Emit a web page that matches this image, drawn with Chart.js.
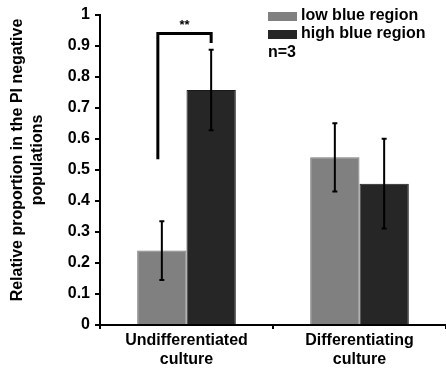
<!DOCTYPE html>
<html><head><meta charset="utf-8">
<style>html,body{margin:0;padding:0;background:#fff;overflow:hidden}#wrap{width:446px;height:369px}</style>
<script src="https://cdn.jsdelivr.net/npm/chart.js@4/dist/chart.umd.min.js"></script>
</head><body><div id="wrap"><canvas id="c" width="446" height="369"></canvas></div>
<script>
const categories = [['Undifferentiated','culture'], ['Differentiating','culture']];
const seriesNames = ['low blue region', 'high blue region'];
const lowValues = [0.24, 0.541];
const highValues = [0.758, 0.456];
const lowErrors = [0.095, 0.11];
const highErrors = [0.13, 0.145];
const yTicks = [0,0.1,0.2,0.3,0.4,0.5,0.6,0.7,0.8,0.9,1];
const yTitle = ['Relative proportion in the PI negative', 'populations'];
const noteText = 'n=3';
const sigText = '**';
const sigLevels = [0.535, 0.94, 0.91];
const colors = ['#808080', '#262626'];
const FONT = '"Liberation Sans", Arial, sans-serif';

const errs = [lowErrors, highErrors];

const overlay = {
  id: 'overlay',
  afterDatasetsDraw(chart) {
    const ctx = chart.ctx, y = chart.scales.y;
    ctx.save();
    ctx.strokeStyle = '#000';
    ctx.lineWidth = 2;
    chart.data.datasets.forEach((ds, di) => {
      const meta = chart.getDatasetMeta(di);
      meta.data.forEach((bar, i) => {
        const v = ds.data[i], e = errs[di][i];
        const x = bar.x, yt = y.getPixelForValue(v + e), yb = y.getPixelForValue(v - e);
        ctx.beginPath();
        ctx.moveTo(x, yt); ctx.lineTo(x, yb);
        ctx.moveTo(x - 2.5, yt); ctx.lineTo(x + 2.5, yt);
        ctx.moveTo(x - 2.5, yb); ctx.lineTo(x + 2.5, yb);
        ctx.stroke();
      });
    });
    // significance bracket
    const b0 = chart.getDatasetMeta(0).data[0], b1 = chart.getDatasetMeta(1).data[0];
    const xl = b0.x - 4, xr = b1.x;
    ctx.lineWidth = 3;
    ctx.beginPath();
    ctx.moveTo(xl, y.getPixelForValue(sigLevels[0]));
    ctx.lineTo(xl, y.getPixelForValue(sigLevels[1]));
    ctx.lineTo(xr, y.getPixelForValue(sigLevels[1]));
    ctx.lineTo(xr, y.getPixelForValue(sigLevels[2]));
    ctx.stroke();
    ctx.fillStyle = '#000';
    ctx.font = 'bold 13px ' + FONT;
    ctx.textAlign = 'center';
    ctx.textBaseline = 'bottom';
    ctx.fillText(sigText, (xl + xr) / 2, y.getPixelForValue(sigLevels[1]) - 2);
    // legend
    ctx.font = 'bold 16px ' + FONT;
    ctx.textAlign = 'left';
    ctx.textBaseline = 'middle';
    seriesNames.forEach((n, i) => {
      const yy = 16 + i * 18;
      ctx.fillStyle = colors[i];
      ctx.fillRect(268, yy - 4, 29, 9);
      ctx.fillStyle = '#000';
      ctx.fillText(n, 301, yy);
    });
    ctx.fillText(noteText, 268, 53);
    // y title
    ctx.save();
    ctx.translate(0, 160);
    ctx.rotate(-Math.PI / 2);
    ctx.textAlign = 'center';
    ctx.font = 'bold 16px ' + FONT;
    ctx.fillText(yTitle[0], 0, 18);
    ctx.fillText(yTitle[1], 0, 38);
    ctx.restore();
    ctx.restore();
  }
};

new Chart(document.getElementById('c'), {
  type: 'bar',
  data: {
    labels: categories,
    datasets: [
      { label: seriesNames[0], data: lowValues, backgroundColor: colors[0], borderColor: '#777', borderWidth: 1 },
      { label: seriesNames[1], data: highValues, backgroundColor: colors[1], borderColor: '#1a1a1a', borderWidth: 1 }
    ]
  },
  options: {
    responsive: false,
    animation: false,
    devicePixelRatio: 1,
    layout: { padding: { top: 15, right: 0, left: 0, bottom: 0 } },
    datasets: { bar: { categoryPercentage: 0.57, barPercentage: 1 } },
    plugins: { legend: { display: false }, tooltip: { enabled: false } },
    scales: {
      x: {
        grid: { display: true, drawOnChartArea: false, color: '#000', lineWidth: 2, tickLength: 4, offset: true },
        border: { display: true, color: '#000', width: 2 },
        ticks: { color: '#000', font: { family: FONT, size: 16, weight: 'bold', lineHeight: 1.2 }, padding: 2, maxRotation: 0 },
        afterFit(s) { s.height = 44; }
      },
      y: {
        min: 0, max: 1,
        afterBuildTicks(s) { s.ticks = yTicks.map(v => ({ value: v })); },
        grid: { display: true, drawOnChartArea: false, color: '#000', lineWidth: 2, tickLength: 5 },
        border: { display: true, color: '#000', width: 2 },
        ticks: { color: '#000', font: { family: FONT, size: 16, weight: 'bold' }, padding: 5,
          callback: v => String(v) },
        afterFit(s) { s.width = 100; }
      }
    }
  },
  plugins: [overlay]
});
</script></body></html>
